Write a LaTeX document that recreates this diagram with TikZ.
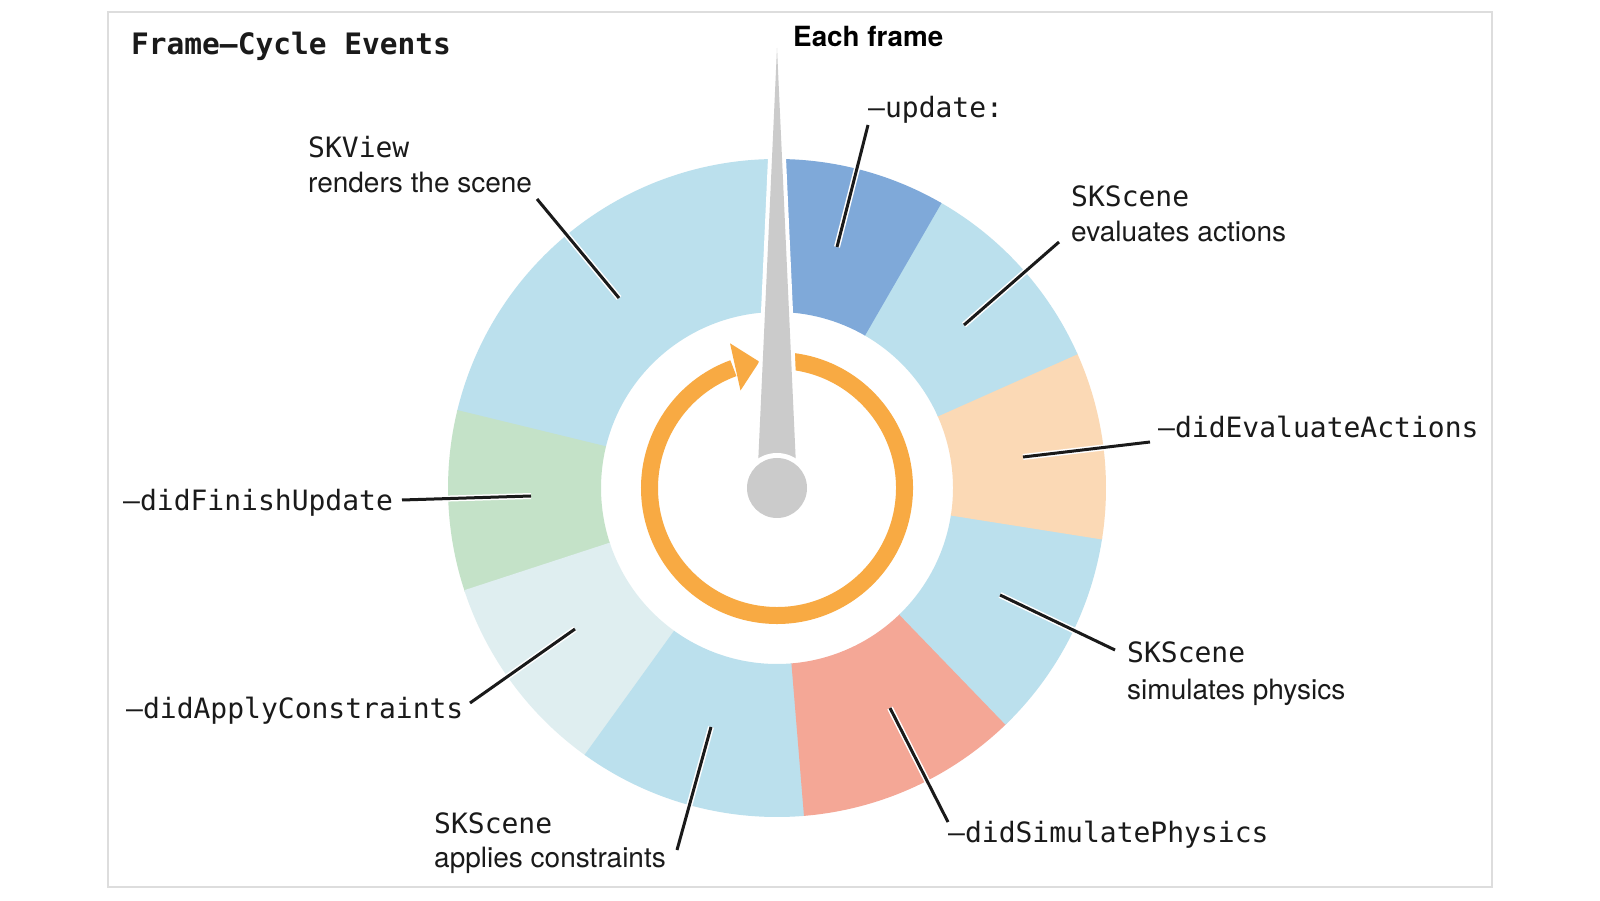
\documentclass[tikz,border=0pt]{standalone}
\usepackage{fontspec}
\setmainfont{TeX Gyre Heros}
\newfontfamily\monof{DejaVu Sans Mono}
\definecolor{lb}{HTML}{BBE0ED}
\definecolor{db}{HTML}{7FA9D9}
\definecolor{gr}{HTML}{C4E2C8}
\definecolor{vl}{HTML}{DFEEF0}
\definecolor{pe}{HTML}{FBD9B5}
\definecolor{sa}{HTML}{F4A796}
\definecolor{orng}{HTML}{F8AA43}
\definecolor{gry}{HTML}{CBCBCB}
\definecolor{frm}{HTML}{DDDDDD}
\definecolor{ink}{HTML}{1A1A1A}
\tikzset{
  monolbl/.style={anchor=base west, inner sep=0pt, text=ink, font=\monof\fontsize{28}{34}\selectfont},
  sanslbl/.style={anchor=base west, inner sep=0pt, text=ink, font=\fontsize{28}{34}\selectfont},
  lead/.style={draw=ink, line width=3pt, preaction={draw=white, line width=6pt}},
}
\newcommand\ringseg[3]{\fill[#1] (#2:329) arc[start angle=#2, end angle=#3, radius=329] -- (#3:176) arc[start angle=#3, end angle=#2, radius=176] -- cycle;}
\begin{document}
\begin{tikzpicture}[x=1pt,y=1pt]
\useasboundingbox (0,0) rectangle (1600,900);
\fill[white] (0,0) rectangle (1600,900);
\draw[frm, line width=2pt] (108,13) rectangle (1492,888);

% ring segments
\begin{scope}[shift={(777,412)}]
\ringseg{lb}{90}{166.6}
\ringseg{gr}{166.3}{198.4}
\ringseg{vl}{198.1}{234.5}
\ringseg{lb}{234.2}{275.0}
\ringseg{sa}{274.7}{314.3}
\ringseg{lb}{314}{351.3}
\ringseg{pe}{351}{384.3}
\ringseg{lb}{24}{60.3}
\ringseg{db}{60}{90}
% orange cycle arrow
\draw[orng, line width=17pt] (84:127.5) arc[start angle=84, end angle=-250, radius=127.5];
\end{scope}
\fill[orng] (730,556.7) -- (759.3,538.3) -- (740.5,509.5) -- cycle;

% pointer
\fill[white, draw=white, line width=8pt, line join=round] (777,852) -- (797,412) -- (757,412) -- cycle;
\fill[gry] (777,852) -- (797,412) -- (757,412) -- cycle;
\fill[white] (777,412) circle[radius=35];
\node[circle, fill=gry, minimum size=60pt, inner sep=0pt] (hub) at (777,412) {};

% leader end points
\coordinate (l1a) at (537,701); \coordinate (l1b) at (619,602);
\coordinate (l2a) at (868,775); \coordinate (l2b) at (837,653);
\coordinate (l3a) at (1059,658); \coordinate (l3b) at (964,575);
\coordinate (l4a) at (1150,458); \coordinate (l4b) at (1023,443);
\coordinate (l5a) at (1115,250); \coordinate (l5b) at (1000,305);
\coordinate (l6a) at (948,78); \coordinate (l6b) at (890,192);
\coordinate (l7a) at (677,50); \coordinate (l7b) at (711,173);
\coordinate (l8a) at (470,197); \coordinate (l8b) at (575,271);
\coordinate (l9a) at (402,400); \coordinate (l9b) at (531,404);
\foreach \i in {1,...,9} {\draw[lead] (l\i a) -- (l\i b);}

% texts
\node[anchor=base west, inner sep=0pt, text=ink, font=\monof\bfseries\fontsize{29.5}{34}\selectfont] (title) at (131,845) {Frame–Cycle Events};
\node[anchor=base west, inner sep=0pt, text=black, font=\bfseries\fontsize{27.8}{34}\selectfont] (each) at (793,853) {Each frame};
\node[monolbl] (upd) at (868,782) {–update:};
\node[monolbl] (skv) at (308,742) {SKView};
\node[sanslbl] (rend) at (308,707) {renders the scene};
\node[monolbl] (sks1) at (1071,693) {SKScene};
\node[sanslbl] (eval) at (1071,658) {evaluates actions};
\node[monolbl] (dea) at (1158,462) {–didEvaluateActions};
\node[monolbl] (sks2) at (1127,237) {SKScene};
\node[sanslbl] (sim) at (1127,201) {simulates physics};
\node[monolbl] (dsp) at (948,58) {–didSimulatePhysics};
\node[monolbl] (sks3) at (434,67) {SKScene};
\node[sanslbl] (appl) at (434,33) {applies constraints};
\node[monolbl] (dac) at (126,182) {–didApplyConstraints};
\node[monolbl] (dfu) at (123,389) {–didFinishUpdate};
\end{tikzpicture}
\end{document}
